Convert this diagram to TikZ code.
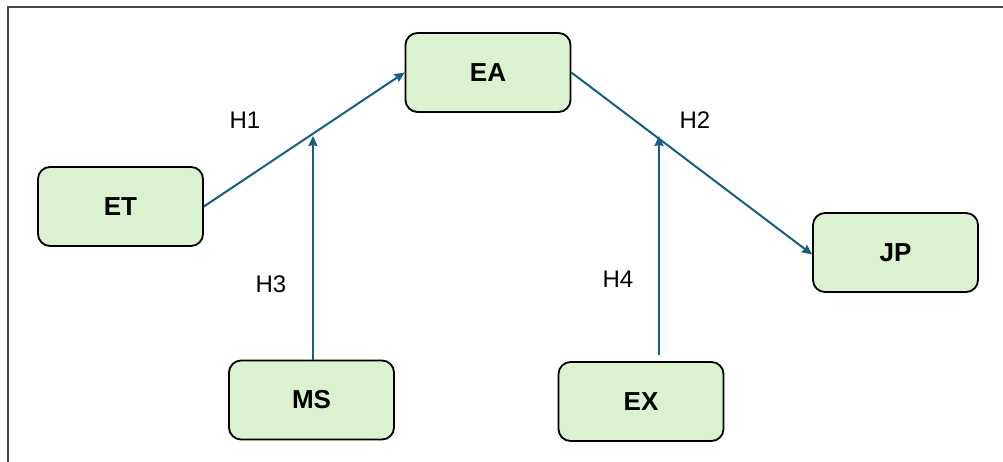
\documentclass[tikz,border=0pt]{standalone}
\usepackage{fontspec}
\setmainfont{Liberation Sans}
\usetikzlibrary{arrows.meta}
\definecolor{boxfill}{HTML}{DAF2D0}
\definecolor{arrowc}{HTML}{156082}
\definecolor{framec}{HTML}{4A4A4A}
\tikzset{
  var/.style={draw=black, line width=1.8pt, fill=boxfill, rounded corners=12pt,
    minimum width=165pt, minimum height=79pt, inner sep=0pt,
    font=\fontsize{26}{30}\selectfont\bfseries},
  link/.style={draw=arrowc, line width=2pt, -{Stealth[length=10pt,width=9pt,inset=1pt]}},
  hlab/.style={font=\fontsize{24}{28}\selectfont, inner sep=0pt},
}
\begin{document}
\begin{tikzpicture}[x=1pt,y=-1pt]
\useasboundingbox (0,0) rectangle (1003,462);
\draw[framec, line width=2pt] (7.5,462) -- (7.5,7.5) -- (1003,7.5);
\node[var] (ea) at (488,72.5) {EA};
\node[var] (et) at (120.5,206.5) {ET};
\node[var] (jp) at (895.5,252.5) {JP};
\node[var] (ms) at (311.5,400) {MS};
\node[var] (ex) at (641,401.5) {EX};
\coordinate (msin) at (313,136);
\coordinate (msout) at (313,360);
\coordinate (exin) at (659,136);
\coordinate (exout) at (659,355);
\draw[link] (et.east) -- (ea.west);
\draw[link] (ea.east) -- ([yshift=-2pt]jp.west);
\draw[link] (msout) -- (msin);
\draw[link] (exout) -- (exin);
\node[hlab] (h1) at (245,120) {H1};
\node[hlab] (h2) at (695,120) {H2};
\node[hlab] (h3) at (271,284) {H3};
\node[hlab] (h4) at (618,279) {H4};
\end{tikzpicture}
\end{document}
